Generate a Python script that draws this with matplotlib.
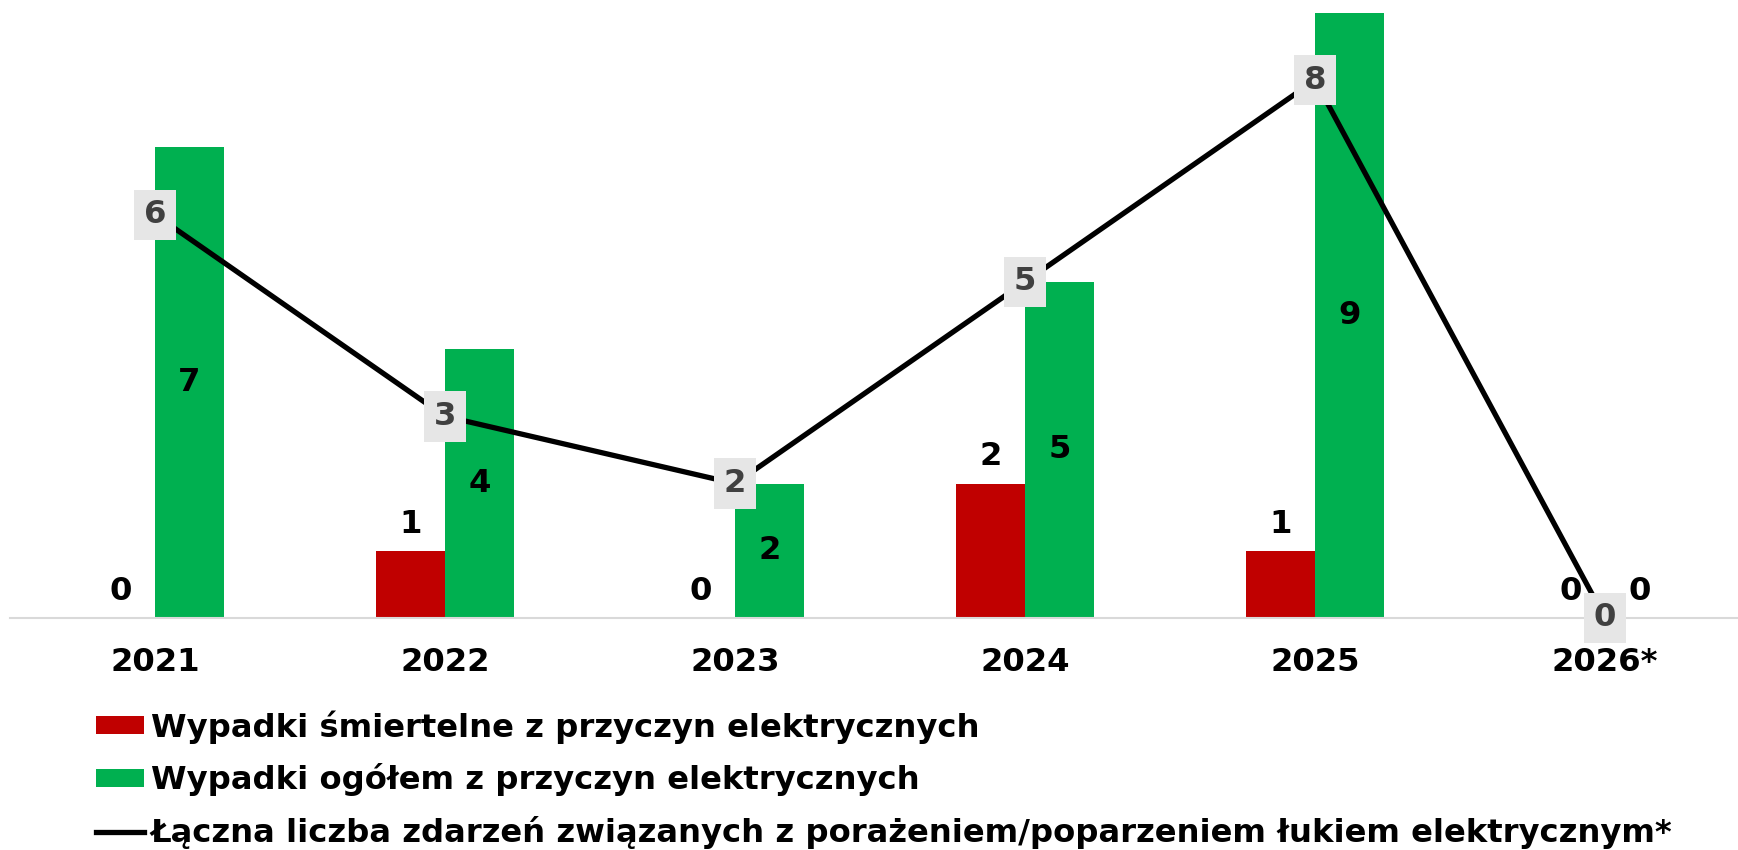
import matplotlib.pyplot as plt
import numpy as np

years = ['2021', '2022', '2023', '2024', '2025', '2026*']
fatal = [0, 1, 0, 2, 1, 0]
total = [7, 4, 2, 5, 9, 0]
arc_events = [6, 3, 2, 5, 8, 0]

labels = ['Wypadki śmiertelne z przyczyn elektrycznych',
          'Wypadki ogółem z przyczyn elektrycznych',
          'Łączna liczba zdarzeń związanych z porażeniem/poparzeniem łukiem elektrycznym*']

RED = '#C00000'
GREEN = '#00B050'
FS = 23.2

plt.rcParams['font.family'] = ['DejaVu Sans']
plt.rcParams['font.weight'] = 'bold'

fig = plt.figure(figsize=(17.38, 8.5), dpi=100)
ax = fig.add_axes([10/1738, 232/850, 1740/1738, (618-13)/850])

x = np.arange(len(years))
w = 0.237
b1 = ax.bar(x - w/2, fatal, w, color=RED, label=labels[0])
b2 = ax.bar(x + w/2, total, w, color=GREEN, label=labels[1])
ln, = ax.plot(x, arc_events, color='black', lw=3.8, label=labels[2], zorder=3)

# bar labels
for xi, v in zip(x, fatal):
    ax.annotate(str(v), (xi - w/2, v), xytext=(0, 8), textcoords='offset points',
                ha='center', va='bottom', fontsize=FS, fontweight='bold')
for xi, v in zip(x, total):
    if v == 0:
        ax.annotate(str(v), (xi + w/2, v), xytext=(0, 8), textcoords='offset points',
                    ha='center', va='bottom', fontsize=FS, fontweight='bold')
    else:
        ax.text(xi + w/2, v/2, str(v), ha='center', va='center',
                fontsize=FS, fontweight='bold')

# line labels in grey boxes
for xi, v in zip(x, arc_events):
    ax.text(xi, v, str(v), ha='center', va='center', fontsize=FS, fontweight='bold',
            color='#404040', zorder=5,
            bbox=dict(boxstyle='square,pad=0.3', fc='#E6E6E6', ec='none'))

ax.set_xlim(-0.5, 5.5)
ax.set_ylim(0, 9)
ax.set_xticks(x)
ax.set_xticklabels(years, fontsize=FS, fontweight='bold')
ax.tick_params(axis='x', length=0, pad=21)
ax.set_yticks([])
for s in ['top', 'right', 'left']:
    ax.spines[s].set_visible(False)
ax.spines['bottom'].set_color('#D9D9D9')
ax.spines['bottom'].set_linewidth(1.5)

fig.legend(handles=[b1, b2, ln], labels=labels, loc='upper left',
           bbox_to_anchor=(96/1738, 1 - 710/850), frameon=False,
           prop={'weight': 'bold', 'size': FS},
           handlelength=1.5, handleheight=0.5, handletextpad=0.2,
           labelspacing=0.62, borderpad=0, borderaxespad=0)

fig.savefig('out.png', dpi=100)
